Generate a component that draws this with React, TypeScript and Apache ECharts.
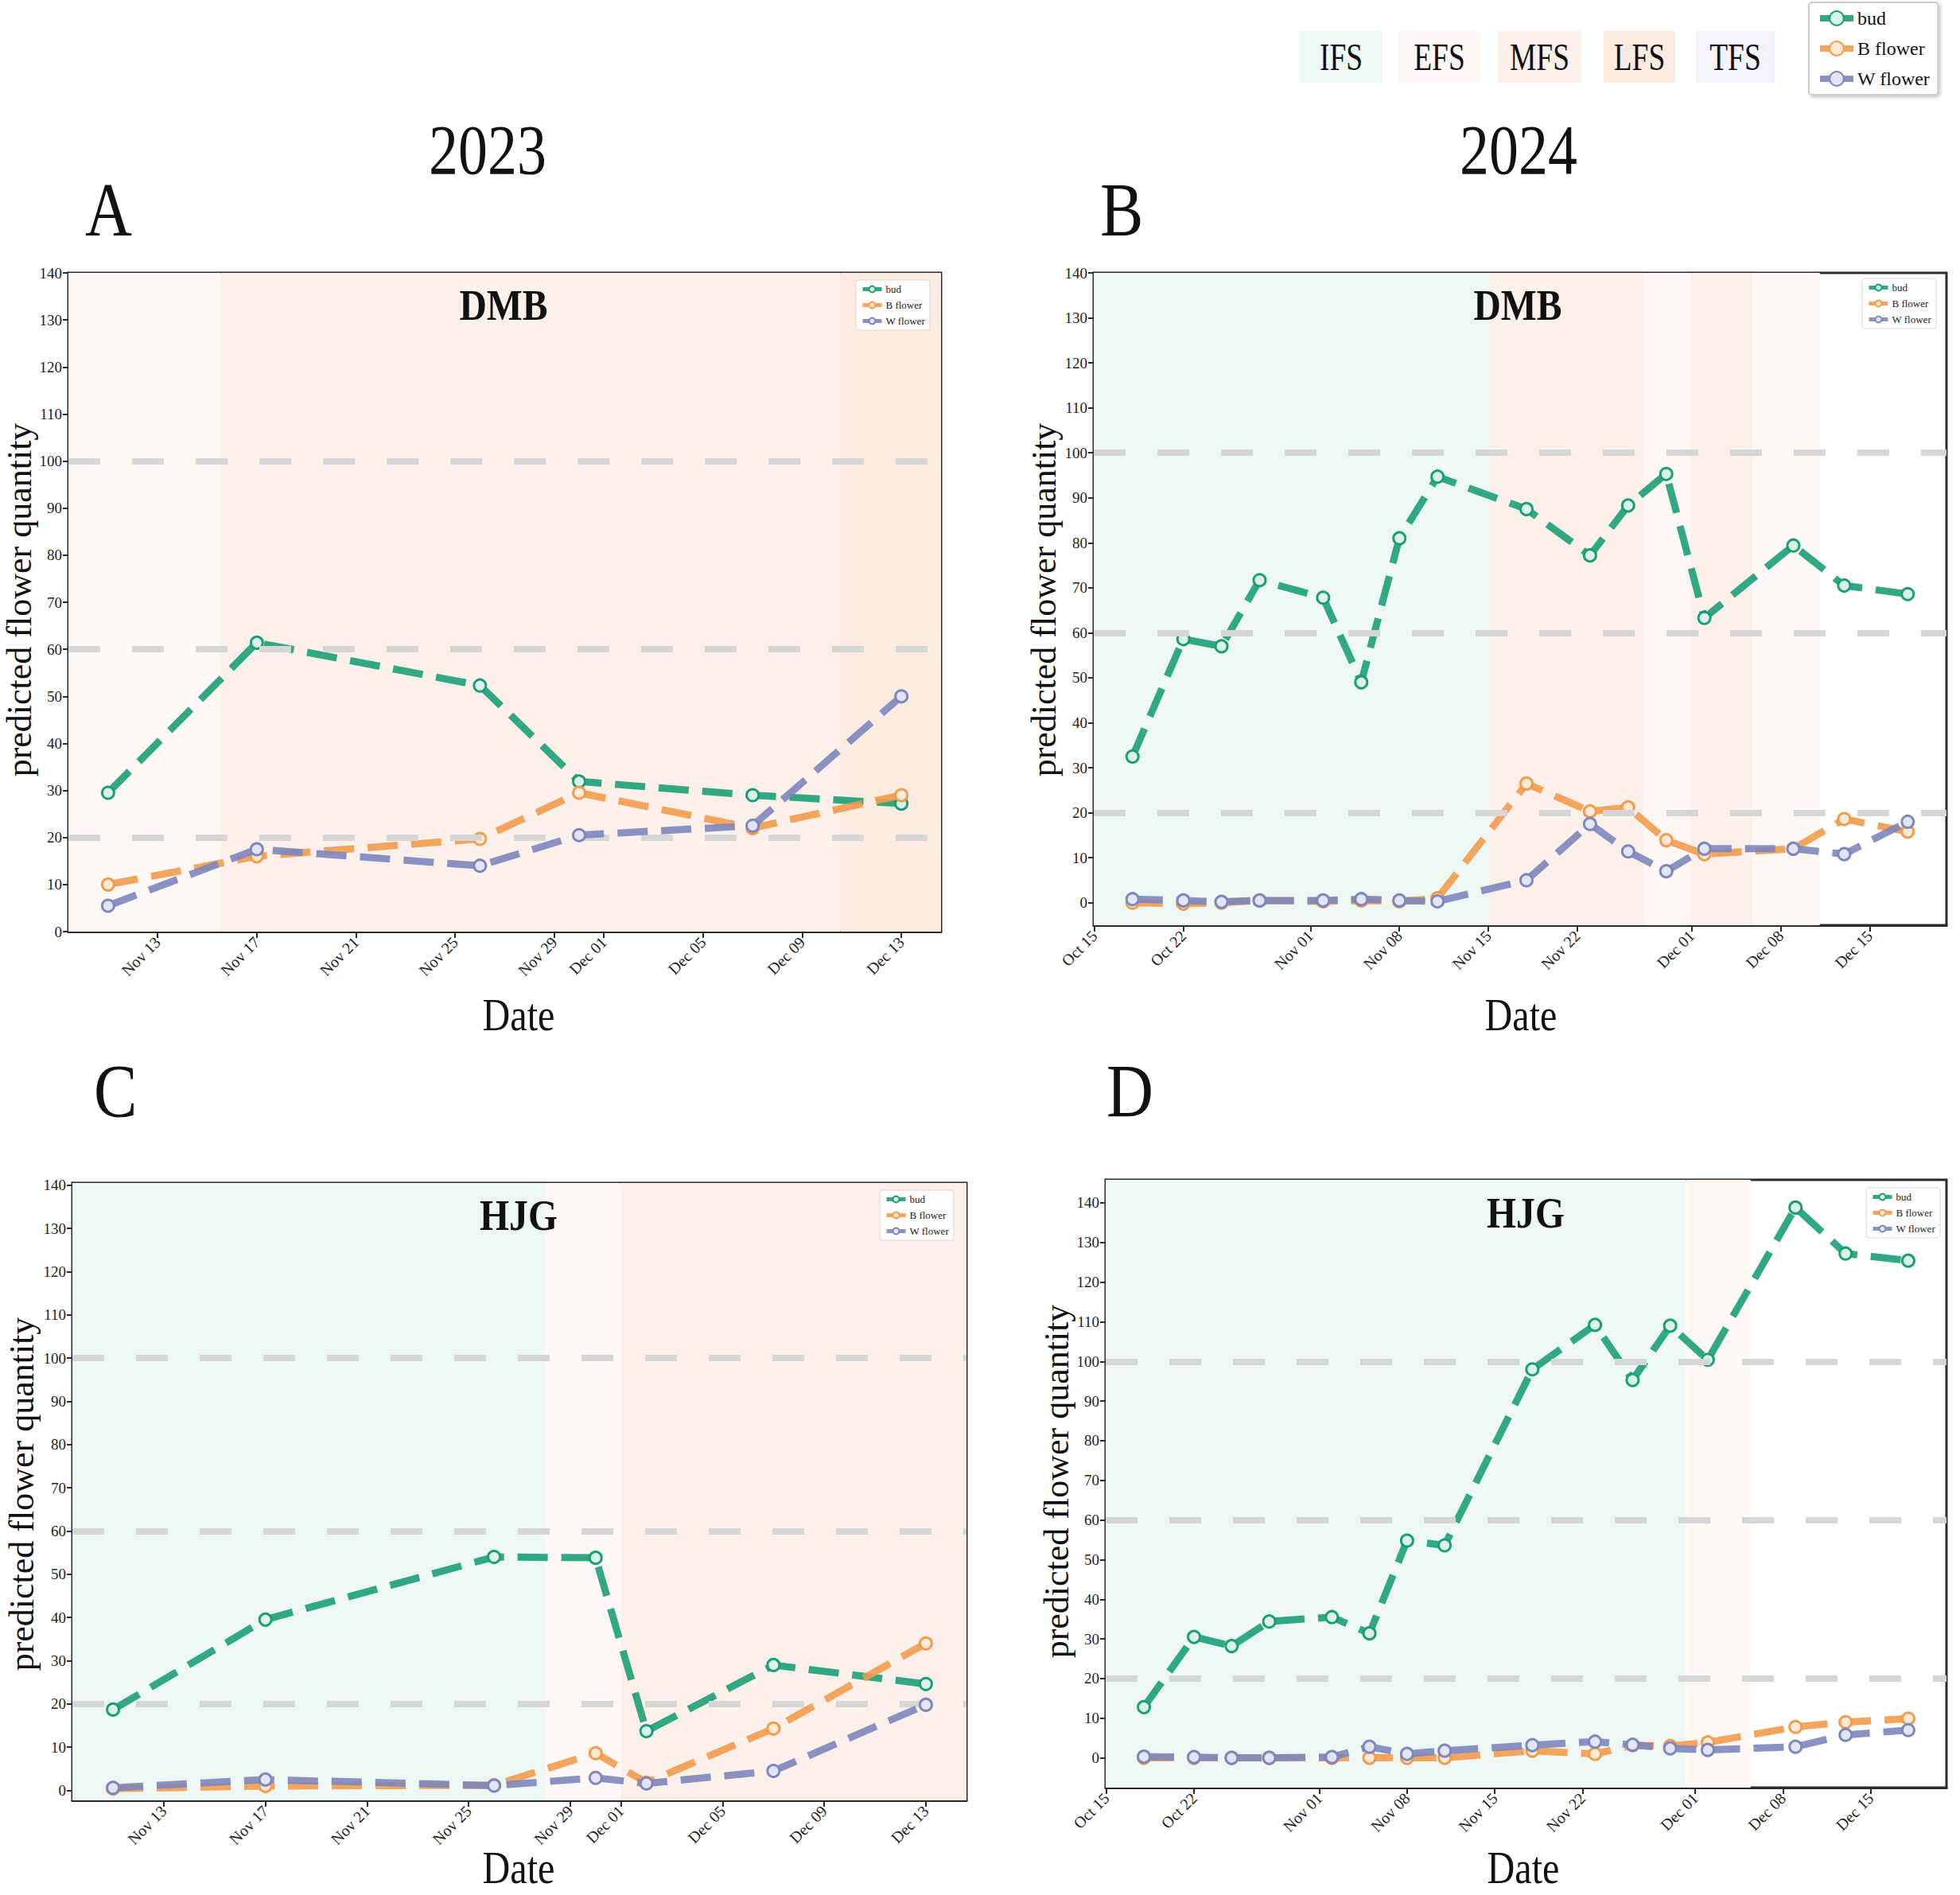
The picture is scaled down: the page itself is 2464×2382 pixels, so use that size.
import React, { useEffect, useRef } from 'react';
import * as echarts from 'echarts';

// ---------------- data ----------------
const SERIES_NAMES = ['bud', 'B flower', 'W flower'];
const LINE_COLORS = ['#1b9e77', '#f29b4c', '#7d86bd'];
const MARKER_FILLS = ['#dcf1e8', '#fdead6', '#e3e5f3'];

const PHASE_NAMES = ['IFS', 'EFS', 'MFS', 'LFS', 'TFS'];
const PHASE_COLORS = ['#edf7f3', '#fef8f4', '#fcf1ea', '#fbebe0', '#f3f4fb'];

const YEAR_LABELS = ['2023', '2024'];
const PANEL_LETTERS = ['A', 'B', 'C', 'D'];
const SITE_NAMES = ['DMB', 'DMB', 'HJG', 'HJG'];

const Y_TICKS = [0, 10, 20, 30, 40, 50, 60, 70, 80, 90, 100, 110, 120, 130, 140];
const GRID_VALUES = [20, 60, 100];

const ticks2023 = ['2023-11-13', '2023-11-17', '2023-11-21', '2023-11-25', '2023-11-29', '2023-12-01', '2023-12-05', '2023-12-09', '2023-12-13'];
const ticks2024 = ['2024-10-15', '2024-10-22', '2024-11-01', '2024-11-08', '2024-11-15', '2024-11-22', '2024-12-01', '2024-12-08', '2024-12-15'];

// Panel A: DMB 2023
const datesA = ['2023-11-11', '2023-11-17', '2023-11-26', '2023-11-30', '2023-12-07', '2023-12-13'];
const budA = [29.5, 61.4, 52.3, 31.9, 29.0, 27.2];
const bFlowerA = [10.0, 16.0, 19.7, 29.5, 22.0, 29.0];
const wFlowerA = [5.5, 17.5, 14.0, 20.5, 22.5, 50.0];
const phasesA: [string | null, string | null, string][] = [
  [null, '2023-11-15T13:00', 'EFS'],
  ['2023-11-15T13:00', '2023-12-10T13:00', 'MFS'],
  ['2023-12-10T13:00', null, 'LFS'],
];

// Panel B: DMB 2024
const datesB = ['2024-10-18', '2024-10-22', '2024-10-25', '2024-10-28', '2024-11-02', '2024-11-05', '2024-11-08', '2024-11-11', '2024-11-18', '2024-11-23', '2024-11-26', '2024-11-29', '2024-12-02', '2024-12-09', '2024-12-13', '2024-12-18'];
const budB = [32.5, 58.6, 57.0, 71.7, 67.8, 49.0, 81.0, 94.7, 87.5, 77.2, 88.3, 95.3, 63.3, 79.4, 70.5, 68.6];
const bFlowerB = [0.0, -0.2, 0.0, 0.5, 0.3, 0.5, 0.3, 1.0, 26.5, 20.3, 21.2, 13.9, 10.8, 12.0, 18.6, 15.8];
const wFlowerB = [0.8, 0.5, 0.2, 0.5, 0.5, 0.8, 0.5, 0.3, 5.0, 17.5, 11.4, 7.0, 12.0, 12.0, 10.8, 18.0];
const phasesB: [string | null, string | null, string][] = [
  [null, '2024-11-15T00:00', 'IFS'],
  ['2024-11-15T00:00', '2024-11-27T05:00', 'MFS'],
  ['2024-11-27T05:00', '2024-11-30T22:00', 'EFS'],
  ['2024-11-30T22:00', '2024-12-05T19:00', 'MFS'],
  ['2024-12-05T19:00', '2024-12-11T02:00', 'EFS'],
];

// Panel C: HJG 2023
const datesC = ['2023-11-11', '2023-11-17', '2023-11-26', '2023-11-30', '2023-12-02', '2023-12-07', '2023-12-13'];
const budC = [18.7, 39.5, 54.0, 53.8, 13.7, 29.0, 24.6];
const bFlowerC = [0.4, 1.0, 1.2, 8.6, 1.8, 14.3, 34.0];
const wFlowerC = [0.6, 2.5, 1.1, 2.9, 1.6, 4.5, 19.8];
const phasesC: [string | null, string | null, string][] = [
  [null, '2023-11-28T00:00', 'IFS'],
  ['2023-11-28T00:00', '2023-12-01T00:00', 'EFS'],
  ['2023-12-01T00:00', null, 'MFS'],
];

// Panel D: HJG 2024
const datesD = datesB;
const budD = [12.8, 30.5, 28.2, 34.4, 35.5, 31.4, 54.8, 53.6, 98.0, 109.2, 95.3, 109.0, 100.4, 138.8, 127.2, 125.4];
const bFlowerD = [0.0, 0.0, 0.0, 0.0, 0.0, 0.0, 0.0, 0.0, 1.8, 1.0, 3.2, 3.0, 3.9, 7.8, 9.0, 9.9];
const wFlowerD = [0.3, 0.2, 0.0, 0.0, 0.2, 2.8, 1.0, 1.8, 3.2, 4.1, 3.3, 2.4, 2.0, 2.8, 5.8, 7.0];
const phasesD: [string | null, string | null, string][] = [
  [null, '2024-11-30T06:00', 'IFS'],
  ['2024-11-30T06:00', '2024-12-05T10:00', 'EFS'],
];

// ---------------- helpers ----------------
const SERIF = '"Liberation Serif", "Times New Roman", serif';
const MONTHS = ['Jan', 'Feb', 'Mar', 'Apr', 'May', 'Jun', 'Jul', 'Aug', 'Sep', 'Oct', 'Nov', 'Dec'];
const day = (s: string) => Date.parse(s.length > 10 ? s + ':00Z' : s + 'T00:00:00Z') / 86400000;
const fmtDay = (v: number) => {
  const d = new Date(Math.round(v) * 86400000);
  return MONTHS[d.getUTCMonth()] + ' ' + String(d.getUTCDate()).padStart(2, '0');
};

// ---------------- layout ----------------
const panels = [
  { dates: datesA, vals: [budA, bFlowerA, wFlowerA], ticks: ticks2023, phases: phasesA,
    grid: { left: 86, top: 343, width: 1097, height: 828 }, yMin: 0, yMax: 140, xPadFrac: 0.05,
    legend: { left: 1076, top: 352 }, title: [633, 383], letter: [107, 264], dateLbl: [652, 1276], yName: [24, 754] },
  { dates: datesB, vals: [budB, bFlowerB, wFlowerB], ticks: ticks2024, phases: phasesB,
    grid: { left: 1375, top: 343, width: 1072, height: 820 }, yMin: -5, yMax: 140, xPadFrac: 0.05,
    legend: { left: 2341, top: 350 }, title: [1908, 383], letter: [1383, 264], dateLbl: [1912, 1276], yName: [1312, 754] },
  { dates: datesC, vals: [budC, bFlowerC, wFlowerC], ticks: ticks2023, phases: phasesC,
    grid: { left: 91, top: 1487, width: 1124, height: 776 }, yMin: -2.3, yMax: 140.5, xPadFrac: 0.05,
    legend: { left: 1106, top: 1496 }, title: [652, 1527], letter: [118, 1372], dateLbl: [652, 2348], yName: [27, 1878] },
  { dates: datesD, vals: [budD, bFlowerD, wFlowerD], ticks: ticks2024, phases: phasesD,
    grid: { left: 1390, top: 1483, width: 1057, height: 764 }, yMin: -7.5, yMax: 145.8, xPadFrac: 0.05,
    legend: { left: 2346, top: 1493 }, title: [1918, 1524], letter: [1391, 1372], dateLbl: [1915, 2348], yName: [1328, 1862] },
];

function txt(text: string, x: number, y: number, size: number, opts: any = {}) {
  return {
    type: 'text', x, y, rotation: opts.rotation || 0, scaleX: opts.scaleX || 1, scaleY: 1, z: 100,
    style: {
      text, fill: '#111', fontFamily: SERIF, fontSize: size, fontWeight: opts.bold ? 'bold' : 'normal',
      textAlign: opts.align || 'center', align: opts.align || 'center',
      textVerticalAlign: 'middle', verticalAlign: 'middle',
    },
  };
}

function buildOption() {
  const grids: any[] = [];
  const xAxes: any[] = [];
  const yAxes: any[] = [];
  const series: any[] = [];
  const legends: any[] = [];
  const graphics: any[] = [];

  panels.forEach((p, i) => {
    const d0 = day(p.dates[0]);
    const d1 = day(p.dates[p.dates.length - 1]);
    const pad = (d1 - d0) * p.xPadFrac;
    const xMin = d0 - pad;
    const xMax = d1 + pad;
    const tickVals = p.ticks.map(day);

    grids.push({ ...p.grid, show: true, borderColor: '#2b2b2b', borderWidth: 3, backgroundColor: '#fff', containLabel: false });
    xAxes.push({
      type: 'value', gridIndex: i, min: xMin, max: xMax,
      splitLine: { show: false },
      axisLine: { show: true, onZero: false, lineStyle: { color: '#2b2b2b', width: 3 } },
      axisTick: { show: true, customValues: tickVals, length: 8, lineStyle: { color: '#2b2b2b', width: 2 } },
      axisLabel: { customValues: tickVals, rotate: 45, formatter: fmtDay, fontFamily: SERIF, fontSize: 20, color: '#222', margin: 10 },
    });
    yAxes.push({
      type: 'value', gridIndex: i, min: p.yMin, max: p.yMax,
      splitLine: { show: false },
      axisLine: { show: true, onZero: false, lineStyle: { color: '#2b2b2b', width: 3 } },
      axisTick: { show: true, customValues: Y_TICKS, length: 7, lineStyle: { color: '#2b2b2b', width: 2 } },
      axisLabel: { customValues: Y_TICKS, fontFamily: SERIF, fontSize: 19, color: '#222', margin: 8 },
    });

    // background phases + dashed reference lines
    series.push({
      type: 'line', name: '_bg' + i, xAxisIndex: i, yAxisIndex: i, silent: true, z: 1,
      data: p.dates.map((dd, k) => [day(dd), p.vals[0][k]]),
      showSymbol: false, symbol: 'none', lineStyle: { opacity: 0, width: 0 },
      tooltip: { show: false },
      markArea: {
        silent: true,
        data: p.phases.map(([s, e, ph]) => [
          { xAxis: s ? day(s) : xMin, itemStyle: { color: PHASE_COLORS[PHASE_NAMES.indexOf(ph)] } },
          { xAxis: e ? day(e) : xMax },
        ]),
      },
      markLine: {
        silent: true, symbol: ['none', 'none'], label: { show: false },
        lineStyle: { color: '#d6d6d6', width: 8, type: [40, 40], opacity: 1 },
        data: GRID_VALUES.map(v => ({ yAxis: v })),
      },
    });

    SERIES_NAMES.forEach((name, si) => {
      series.push({
        type: 'line', name, xAxisIndex: i, yAxisIndex: i, z: 3 + si,
        data: p.dates.map((dd, k) => [day(dd), p.vals[si][k]]),
        symbol: 'circle', symbolSize: 15, showSymbol: true,
        lineStyle: { color: LINE_COLORS[si], width: 9, type: [38, 17], opacity: 0.9 },
        itemStyle: { color: MARKER_FILLS[si], borderColor: LINE_COLORS[si], borderWidth: 3 },
        emphasis: { disabled: true },
      });
    });

    legends.push({
      show: true, orient: 'vertical', left: p.legend.left, top: p.legend.top,
      data: SERIES_NAMES, itemWidth: 24, itemHeight: 10, itemGap: 7, selectedMode: false,
      textStyle: { fontFamily: SERIF, fontSize: 13, color: '#222' },
      borderColor: '#d8d8d8', borderWidth: 1, borderRadius: 3, padding: [5, 6, 5, 6],
      backgroundColor: 'rgba(255,255,255,0.85)', lineStyle: { type: 'solid', width: 5 },
    });

    graphics.push(txt(SITE_NAMES[i], p.title[0], p.title[1], 56, { bold: true, scaleX: 0.85 }));
    graphics.push(txt(PANEL_LETTERS[i], p.letter[0], p.letter[1], 96, { align: 'left', scaleX: 0.85 }));
    graphics.push(txt('Date', p.dateLbl[0], p.dateLbl[1], 56, { scaleX: 0.86 }));
    graphics.push(txt('predicted flower quantity', p.yName[0], p.yName[1], 44, { rotation: Math.PI / 2 }));
  });

  // year headers
  graphics.push(txt(YEAR_LABELS[0], 613, 189, 88, { scaleX: 0.84 }));
  graphics.push(txt(YEAR_LABELS[1], 1909, 189, 88, { scaleX: 0.84 }));

  // phase key boxes
  const boxX = [1634, 1757, 1883, 2016, 2132];
  const boxW = [104, 105, 105, 90, 99];
  PHASE_NAMES.forEach((ph, k) => {
    graphics.push({ type: 'rect', shape: { x: boxX[k], y: 39, width: boxW[k], height: 65 }, style: { fill: PHASE_COLORS[k] }, z: 90 });
    graphics.push(txt(ph, boxX[k] + boxW[k] / 2, 72, 48, { scaleX: 0.78 }));
  });

  // figure legend
  legends.push({
    show: true, orient: 'vertical', left: 2274, top: 3,
    data: SERIES_NAMES, itemWidth: 42, itemHeight: 22, itemGap: 14, selectedMode: false,
    textStyle: { fontFamily: SERIF, fontSize: 24, color: '#111' },
    borderColor: '#cccccc', borderWidth: 2, borderRadius: 4, padding: [8, 10, 8, 10],
    backgroundColor: '#fff', lineStyle: { type: 'solid', width: 8 },
    shadowBlur: 4, shadowColor: 'rgba(0,0,0,0.25)', shadowOffsetX: 2, shadowOffsetY: 2,
  });

  return {
    animation: false,
    backgroundColor: '#ffffff',
    grid: grids,
    xAxis: xAxes,
    yAxis: yAxes,
    legend: legends,
    series,
    graphic: graphics,
  };
}

export default function App() {
  const ref = useRef<HTMLDivElement>(null);
  useEffect(() => {
    if (!ref.current) return;
    const chart = echarts.init(ref.current, null, { renderer: 'svg' });
    chart.setOption(buildOption() as any);
    return () => chart.dispose();
  }, []);
  return (
    <div
      ref={ref}
      style={{ position: 'absolute', left: 0, top: 0, width: 2464, height: 2382, background: '#fff' }}
    />
  );
}
